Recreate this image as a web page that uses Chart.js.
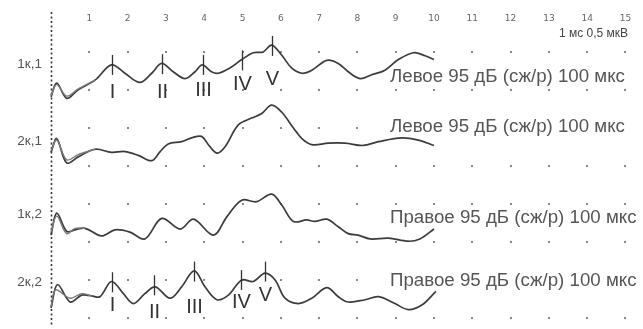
<!DOCTYPE html>
<html>
<head>
<meta charset="utf-8">
<script src="https://cdn.jsdelivr.net/npm/chart.js@4"></script>
<style>
  html, body { margin: 0; padding: 0; background: #fff; }
  #wrap { width: 643px; height: 329px; }
</style>
</head>
<body>
<div id="wrap"><canvas id="abr" width="643" height="329"></canvas></div>
<script>
// ─── Data (latency in ms, amplitude in µV relative to trace baseline) ───
const msTicks = [1, 2, 3, 4, 5, 6, 7, 8, 9, 10, 11, 12, 13, 14, 15];
const rowLabels = ['1к,1', '2к,1', '1к,2', '2к,2'];
const rowTexts = [
    'Левое 95 дБ (сж/р) 100 мкс',
    'Левое 95 дБ (сж/р) 100 мкс',
    'Правое 95 дБ (сж/р) 100 мкс',
    'Правое 95 дБ (сж/р) 100 мкс',
];
const baselines = [3.0, 2.25, 1.25, 0.25];   // vertical stacking of traces, µV

const t1Times = [0, 0.15, 0.41, 0.70, 1.15, 1.58, 1.93, 2.32, 2.63, 2.89, 3.19, 3.50, 3.76, 3.95, 4.19, 4.37, 4.67, 4.98, 5.28, 5.54, 5.76, 6.02, 6.28, 6.55, 6.81, 7.20, 7.50, 7.76, 8.07, 8.37, 8.72, 9.07, 9.46, 9.77, 10.0];
const t1Values = [-0.09, 0.09, -0.11, 0.00, 0.13, 0.33, 0.22, 0.10, 0.22, 0.35, 0.24, 0.15, 0.24, 0.33, 0.24, 0.22, 0.29, 0.40, 0.49, 0.50, 0.59, 0.46, 0.29, 0.22, 0.26, 0.39, 0.35, 0.24, 0.15, 0.20, 0.26, 0.40, 0.49, 0.45, 0.40];

const t2Times = [0, 0.15, 0.41, 0.71, 1.15, 1.58, 1.93, 2.28, 2.63, 2.85, 3.06, 3.41, 3.67, 3.93, 4.11, 4.33, 4.54, 4.89, 5.24, 5.50, 5.76, 6.02, 6.33, 6.55, 6.81, 7.24, 7.68, 8.15, 8.55, 9.16, 9.59, 10.0];
const t2Values = [-0.07, 0.11, -0.21, -0.13, -0.03, -0.07, -0.06, -0.11, -0.18, -0.06, 0.04, 0.07, 0.12, 0.14, 0.03, -0.08, 0.00, 0.29, 0.38, 0.44, 0.55, 0.46, 0.25, 0.11, 0.03, 0.05, 0.05, 0.02, 0.07, 0.12, 0.09, 0.02];

const t3Times = [0, 0.15, 0.41, 0.63, 0.89, 1.32, 1.67, 2.06, 2.45, 2.89, 3.37, 3.72, 4.24, 4.59, 4.98, 5.37, 5.76, 6.02, 6.33, 6.68, 6.89, 7.20, 7.50, 7.76, 8.02, 8.33, 8.81, 9.33, 9.63, 10.0];
const t3Values = [-0.16, 0.13, -0.11, -0.09, -0.07, -0.17, -0.09, -0.12, -0.21, 0.06, -0.08, 0.05, -0.16, 0.08, 0.30, 0.28, 0.38, 0.24, 0.02, 0.04, 0.02, 0.05, -0.05, -0.14, -0.16, -0.21, -0.20, -0.24, -0.21, -0.08];

const t4Times = [0, 0.17, 0.50, 0.80, 1.06, 1.28, 1.58, 1.89, 2.15, 2.45, 2.72, 3.11, 3.41, 3.74, 4.02, 4.33, 4.63, 4.98, 5.28, 5.59, 5.85, 6.11, 6.46, 6.81, 7.20, 7.50, 7.76, 8.20, 8.55, 8.98, 9.33, 9.68, 10.05];
const t4Values = [-0.12, 0.19, -0.04, 0.05, 0.04, 0.03, 0.23, 0.07, -0.06, 0.07, 0.16, 0.01, 0.16, 0.37, 0.16, -0.01, 0.05, 0.25, 0.23, 0.34, 0.25, 0.01, -0.06, 0.01, 0.15, 0.03, -0.04, -0.01, 0.03, -0.06, -0.14, -0.08, 0.10];

// second replicate only differs over the first ms
const r1Times = [0, 0.15, 0.41, 0.70, 1.15];
const r1Values = [-0.07, 0.07, -0.08, 0.01, 0.13];
const r2Times = [0, 0.15, 0.41, 0.71, 1.15];
const r2Values = [-0.05, 0.09, -0.17, -0.10, -0.03];
const r3Times = [0, 0.15, 0.41, 0.63, 0.89];
const r3Values = [-0.12, 0.09, -0.14, -0.07, -0.07];
const r4Times = [0, 0.12, 0.50, 0.80, 1.06];
const r4Values = [-0.10, 0.12, 0.01, 0.07, 0.04];

// marked peaks I–V
const peakNames = ['I', 'II', 'III', 'IV', 'V'];
const p1Lat = [1.59, 2.89, 3.97, 4.99, 5.77];
const p1Amp = [0.33, 0.34, 0.33, 0.39, 0.58];
const p4Lat = [1.59, 2.70, 3.73, 4.96, 5.59];
const p4Amp = [0.22, 0.18, 0.36, 0.25, 0.36];

// ─── Annotation placement (µV, in plot units) ───
const rowLabelY = [3.34, 2.32, 1.36, 0.47];
const rowTextY = [3.17, 2.51, 1.32, 0.49];
const peakLabelY1 = [2.97, 2.97, 2.99, 3.07, 3.14];
const peakLabelY4 = [0.17, 0.07, 0.14, 0.20, 0.29];
const gridRows = [0, 0.5, 1, 1.5, 2, 2.5, 3, 3.5];

const zip = (ts, vs, base) => ts.map((t, i) => ({ x: t, y: base + vs[i] }));

const traces = [
    [t1Times, t1Values], [t2Times, t2Values], [t3Times, t3Values], [t4Times, t4Values],
];
const reps = [
    [r1Times, r1Values], [r2Times, r2Values], [r3Times, r3Values], [r4Times, r4Values],
];

const datasets = [];
reps.forEach(([ts, vs], i) => datasets.push({
    data: zip(ts, vs, baselines[i]),
    borderColor: '#7a7a7a',
    borderWidth: 1.4,
    tension: 0.35,
    pointRadius: 0,
}));
traces.forEach(([ts, vs], i) => datasets.push({
    data: zip(ts, vs, baselines[i]),
    borderColor: '#3c3c3c',
    borderWidth: 1.7,
    tension: 0.35,
    pointRadius: 0,
}));

const decor = {
    id: 'abrDecor',
    beforeDatasetsDraw(chart) {
        const { ctx, scales: { x, y } } = chart;
        ctx.save();
        // dot grid
        ctx.fillStyle = '#8a8a8a';
        gridRows.forEach(r => {
            msTicks.forEach(m => {
                ctx.fillRect(Math.round(x.getPixelForValue(m)) - 1, Math.round(y.getPixelForValue(r)) - 1, 2, 2);
            });
        });
        // stimulus line at 0 ms
        const x0 = Math.round(x.getPixelForValue(0)) + 0.5;
        ctx.strokeStyle = '#333';
        ctx.lineWidth = 1.6;
        ctx.setLineDash([2, 2.5]);
        ctx.beginPath();
        ctx.moveTo(x0, 12);
        ctx.lineTo(x0, 326);
        ctx.stroke();
        ctx.setLineDash([]);
        // ms tick labels
        ctx.fillStyle = '#666';
        ctx.font = '9px "DejaVu Sans"';
        ctx.textAlign = 'center';
        ctx.textBaseline = 'middle';
        msTicks.forEach(m => ctx.fillText(String(m), x.getPixelForValue(m), 19));
        // scale note
        ctx.fillStyle = '#444';
        ctx.font = '12px "Liberation Sans"';
        ctx.textAlign = 'right';
        ctx.fillText('1 мс 0,5 мкВ', 628, 34);
        // row labels
        ctx.fillStyle = '#555';
        ctx.font = '13.5px "Liberation Sans"';
        ctx.textAlign = 'right';
        rowLabels.forEach((l, i) => ctx.fillText(l, 42, y.getPixelForValue(rowLabelY[i])));
        ctx.restore();
    },
    afterDatasetsDraw(chart) {
        const { ctx, scales: { x, y } } = chart;
        ctx.save();
        // peak markers + roman labels
        const marks = [[p1Lat, p1Amp, baselines[0], peakLabelY1], [p4Lat, p4Amp, baselines[3], peakLabelY4]];
        ctx.strokeStyle = '#333';
        ctx.lineWidth = 1.3;
        ctx.fillStyle = '#333';
        ctx.font = '20px "Liberation Sans Narrow", "Liberation Sans"';
        ctx.textAlign = 'center';
        ctx.textBaseline = 'middle';
        marks.forEach(([lat, amp, base, ly]) => {
            lat.forEach((t, i) => {
                const px = Math.round(x.getPixelForValue(t)) + 0.5;
                const py = y.getPixelForValue(base + amp[i]);
                ctx.beginPath();
                ctx.moveTo(px, py - 10);
                ctx.lineTo(px, py + 10);
                ctx.stroke();
                ctx.fillText(peakNames[i], px, y.getPixelForValue(ly[i]));
            });
        });
        // condition text on a white box (hides grid dots behind it)
        ctx.textAlign = 'left';
        ctx.font = '16px "Liberation Sans"';
        const w = ctx.measureText(rowTexts[0]).width;
        const fs = 16 * 235 / w;
        ctx.font = fs.toFixed(1) + 'px "Liberation Sans"';
        rowTexts.forEach((s, i) => {
            const ty = y.getPixelForValue(rowTextY[i]);
            const tw = ctx.measureText(s).width;
            ctx.fillStyle = '#fff';
            ctx.fillRect(388, ty - 7, tw + 4, 15);
            ctx.fillStyle = '#555';
            ctx.fillText(s, 390, ty);
        });
        ctx.restore();
    },
};

new Chart(document.getElementById('abr'), {
    type: 'line',
    data: { datasets },
    options: {
        responsive: false,
        animation: false,
        devicePixelRatio: 1,
        layout: { padding: 0 },
        plugins: { legend: { display: false }, tooltip: { enabled: false } },
        scales: {
            x: { type: 'linear', min: -1.332, max: 15.457, display: false },
            y: { type: 'linear', min: -0.145, max: 4.184, display: false },
        },
    },
    plugins: [decor],
});
</script>
</body>
</html>
